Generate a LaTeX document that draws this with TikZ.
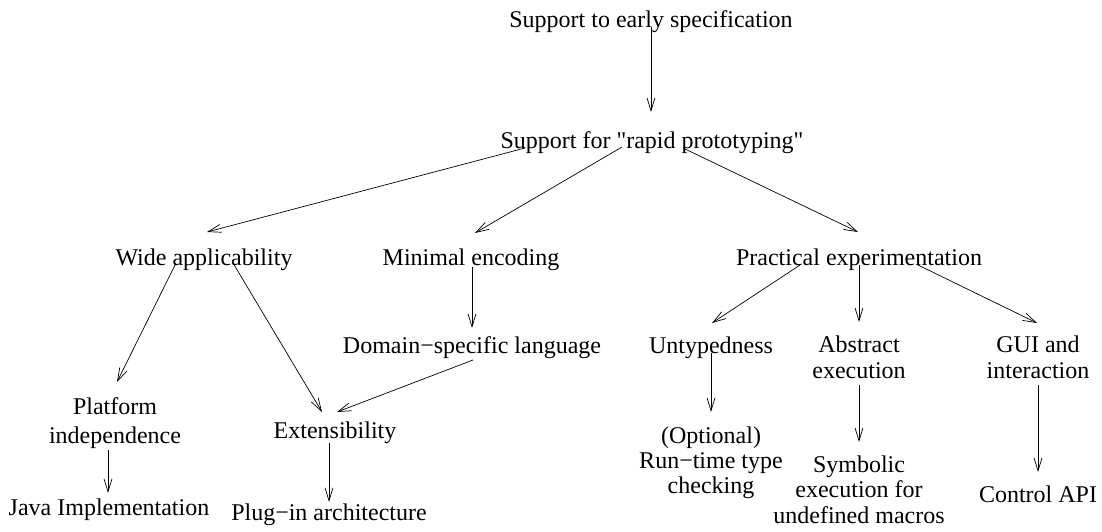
\documentclass[tikz,border=0pt]{standalone}
\usepackage{fontspec}
\setmainfont{Liberation Serif}
\usetikzlibrary{arrows.meta}
\begin{document}
\begin{tikzpicture}[x=1pt,y=-1pt,
  lbl/.style={anchor=base,inner sep=0pt,align=center,font=\fontsize{24}{25.5}\selectfont},
  arr/.style={-{Straight Barb[length=13pt,width=8pt]},line width=0.7pt}]
\useasboundingbox (0,0) rectangle (1102,531);
\node[lbl] (top) at (651,27) {Support to early specification};
\node[lbl] (rapid) at (652,148) {Support for \textquotedbl rapid prototyping\textquotedbl};
\node[lbl] (wide) at (204,265) {Wide applicability};
\node[lbl] (minimal) at (471,265) {Minimal encoding};
\node[lbl] (practical) at (859,265) {Practical experimentation};
\node[lbl] (domain) at (472,353) {Domain\textminus specific language};
\node[lbl] (untyped) at (711,353) {Untypedness};
\node[lbl] (abstract) at (859,378) {Abstract\\execution};
\node[lbl] (gui) at (1038,378) {GUI and\\interaction};
\node[lbl,font=\fontsize{24}{29}\selectfont] (platform) at (115,443) {Platform\\independence};
\node[lbl] (ext) at (335,438) {Extensibility};
\node[lbl] (java) at (109,515) {Java Implementation};
\node[lbl] (plugin) at (329,520) {Plug\textminus in architecture};
\node[lbl,font=\fontsize{24}{25}\selectfont] (optional) at (711,493) {(Optional)\\Run\textminus time type\\checking};
\node[lbl,font=\fontsize{24}{25.5}\selectfont] (symbolic) at (859,523) {Symbolic\\execution for\\undefined macros};
\node[lbl] (control) at (1038,502) {Control API};

\draw[arr] (top.base) -- ([shift={(-1,-36)}]rapid.base);
\draw[arr] ([shift={(-127,0)}]rapid.base) -- ([shift={(3,-33)}]wide.base);
\draw[arr] ([shift={(-30,-1)}]rapid.base) -- ([shift={(4,-32)}]minimal.base);
\draw[arr] ([shift={(31,0)}]rapid.base) -- ([shift={(-1,-33)}]practical.base);
\draw[arr] ([shift={(-29,0)}]wide.base) -- ([shift={(2,-61)}]platform.base);
\draw[arr] ([shift={(29,-2)}]wide.base) -- ([shift={(-13,-26)}]ext.base);
\draw[arr] ([shift={(1,2)}]minimal.base) -- ([shift={(0,-25)}]domain.base);
\draw[arr] ([shift={(1,7)}]domain.base) -- ([shift={(2,-26)}]ext.base);
\draw[arr] ([shift={(-7,7)}]platform.base) -- ([shift={(-1,-22)}]java.base);
\draw[arr] ([shift={(-6,5)}]ext.base) -- ([shift={(0,-18)}]plugin.base);
\draw[arr] ([shift={(-59,0)}]practical.base) -- ([shift={(1,-30)}]untyped.base);
\draw[arr] (practical.base) -- ([shift={(0,-56)}]abstract.base);
\draw[arr] ([shift={(59,0)}]practical.base) -- ([shift={(-1,-55)}]gui.base);
\draw[arr] (untyped.base) -- ([shift={(0,-81)}]optional.base);
\draw[arr] ([shift={(0,7)}]abstract.base) -- ([shift={(0,-81)}]symbolic.base);
\draw[arr] ([shift={(0,7)}]gui.base) -- ([shift={(0,-30)}]control.base);
\end{tikzpicture}
\end{document}
